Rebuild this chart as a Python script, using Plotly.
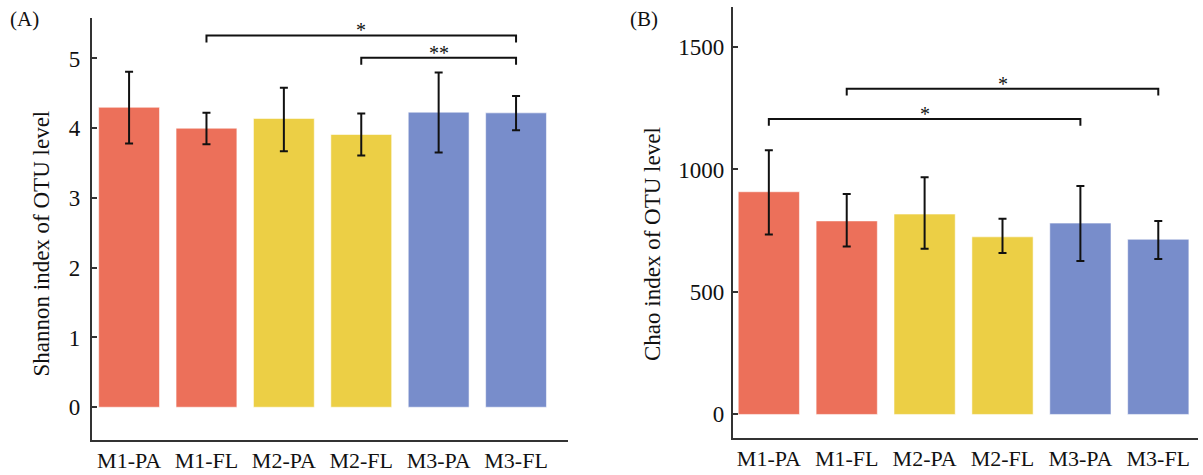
import plotly.graph_objects as go

categories = ["M1-PA", "M1-FL", "M2-PA", "M2-FL", "M3-PA", "M3-FL"]
bar_colors = ["#EC705A", "#EC705A", "#ECCF45", "#ECCF45", "#788DCB", "#788DCB"]

shannon_mean = [4.30, 4.00, 4.14, 3.91, 4.23, 4.22]
shannon_err_plus = [0.51, 0.22, 0.44, 0.30, 0.57, 0.24]
shannon_err_minus = [0.52, 0.23, 0.47, 0.30, 0.58, 0.25]

chao_mean = [909, 790, 818, 725, 781, 715]
chao_err_plus = [169, 110, 150, 74, 152, 75]
chao_err_minus = [174, 104, 142, 66, 155, 81]

shannon_ticks = [0, 1, 2, 3, 4, 5]
chao_ticks = [0, 500, 1000, 1500]

# significance brackets: (from, to, label, bracket height)
shannon_sig = [("M1-FL", "M3-FL", "*", 5.33), ("M2-FL", "M3-FL", "**", 5.01)]
chao_sig = [("M1-PA", "M3-PA", "*", 1206), ("M1-FL", "M3-FL", "*", 1330)]

W, H = 1203, 475
FONT = "Liberation Serif, Times New Roman, serif"
TXT = "#111111"

fig = go.Figure()


def add_panel(mean, ep, em, xa, ya):
    fig.add_trace(go.Bar(
        x=categories, y=mean, xaxis=xa, yaxis=ya, showlegend=False,
        marker=dict(color=bar_colors, line=dict(color="rgba(255,255,255,0.55)", width=1)),
        error_y=dict(type="data", symmetric=False, array=ep, arrayminus=em,
                     color="#111111", thickness=2, width=4),
    ))


add_panel(shannon_mean, shannon_err_plus, shannon_err_minus, "x", "y")
add_panel(chao_mean, chao_err_plus, chao_err_minus, "x2", "y2")


def add_brackets(sig, drop, xa, ya):
    for a, b, lab, h in sig:
        fig.add_trace(go.Scatter(
            x=[a, a, b, b], y=[h - drop, h, h, h - drop],
            mode="lines", line=dict(color="#111111", width=2),
            xaxis=xa, yaxis=ya, showlegend=False, hoverinfo="skip"))
        ia, ib = categories.index(a), categories.index(b)
        fig.add_annotation(x=(ia + ib) / 2, y=h, xref=xa, yref=ya,
                           text=lab, showarrow=False, xanchor="center",
                           yanchor="bottom", yshift=-8,
                           font=dict(family=FONT, size=20, color="#111111"))


add_brackets(shannon_sig, 0.10, "x", "y")
add_brackets(chao_sig, 28, "x2", "y2")

line_style = dict(showline=True, linecolor="#333333", linewidth=1.5, mirror=False,
                  showgrid=False, zeroline=False, automargin=False)
xtick_font = dict(family=FONT, size=22, color=TXT)
ytick_font = dict(family=FONT, size=23, color=TXT)

fig.update_layout(
    width=W, height=H, margin=dict(l=0, r=0, t=0, b=0),
    plot_bgcolor="white", paper_bgcolor="white", bargap=0.214,
    xaxis=dict(domain=[91.7 / W, 567.9 / W], range=[-0.483, 5.67], anchor="y",
               ticks="", tickfont=xtick_font, **line_style),
    yaxis=dict(domain=[1 - 440 / H, 1 - 18 / H], range=[-0.47, 5.58], anchor="x",
               tickvals=shannon_ticks, ticks="inside", ticklen=6, tickwidth=1.5,
               ticklabelstandoff=5,
               tickcolor="#333333", tickfont=ytick_font, **line_style),
    xaxis2=dict(domain=[732.7 / W, 1198 / W], range=[-0.464, 5.51], anchor="y2",
                ticks="", tickfont=xtick_font, **line_style),
    yaxis2=dict(domain=[1 - 437.7 / H, 1 - 7.3 / H], range=[-95, 1662], anchor="x2",
                tickvals=chao_ticks, ticks="inside", ticklen=6, tickwidth=1.5,
                ticklabelstandoff=2,
                tickcolor="#333333", tickfont=ytick_font, **line_style),
)

# axis titles and panel labels
common_ann = dict(xref="paper", yref="paper", showarrow=False,
                  xanchor="center", yanchor="middle")
fig.add_annotation(x=41 / W, y=1 - 243.5 / H, text="Shannon index of OTU level",
                   textangle=-90, font=dict(family=FONT, size=23, color=TXT), **common_ann)
fig.add_annotation(x=653 / W, y=1 - 244 / H, text="Chao index of OTU level",
                   textangle=-90, font=dict(family=FONT, size=23, color=TXT), **common_ann)
fig.add_annotation(x=24.8 / W, y=1 - 19 / H, text="(A)",
                   font=dict(family=FONT, size=21, color=TXT), **common_ann)
fig.add_annotation(x=644.3 / W, y=1 - 19 / H, text="(B)",
                   font=dict(family=FONT, size=21, color=TXT), **common_ann)

fig.write_html("out.html", config={"displayModeBar": False},
               post_script="document.body.style.margin='0';document.body.style.overflow='hidden';")
